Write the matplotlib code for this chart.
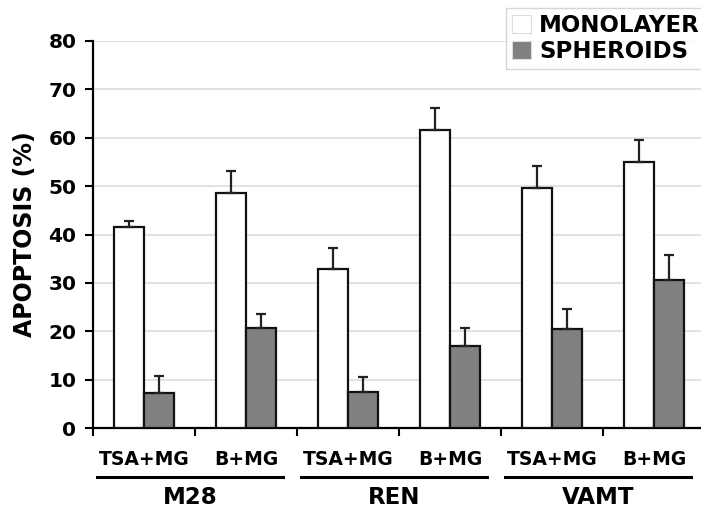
import numpy as np
import matplotlib.pyplot as plt

treatments = ['TSA+MG', 'B+MG', 'TSA+MG', 'B+MG', 'TSA+MG', 'B+MG']
cell_lines = ['M28', 'REN', 'VAMT']
monolayer = [41.5, 48.6, 32.9, 61.6, 49.7, 54.9]
monolayer_err = [1.3, 4.6, 4.3, 4.5, 4.5, 4.6]
spheroids = [7.2, 20.7, 7.4, 17.0, 20.5, 30.6]
spheroids_err = [3.5, 2.8, 3.2, 3.7, 4.0, 5.2]

plt.rcParams['font.family'] = 'DejaVu Sans'
plt.rcParams['font.weight'] = 'bold'

fig = plt.figure(figsize=(7.01, 5.09), dpi=100)
ax = fig.add_axes([93 / 701, 1 - 428 / 509, 612 / 701, 387 / 509])

x = np.arange(len(treatments))
w = 0.29
ekw = dict(elinewidth=1.6, capsize=3.5, capthick=1.6, ecolor='#222222')

# faint shadow on the right of the grey bars
ax.bar(x + w / 2 + 0.012, np.array(spheroids) - 0.4, w, color='#bbbbbb',
       linewidth=0, zorder=2)
ax.bar(x - w / 2, monolayer, w, color='white', edgecolor='#111111', linewidth=1.6,
       yerr=[np.zeros(6), monolayer_err], error_kw=ekw, label='MONOLAYER', zorder=3)
ax.bar(x + w / 2, spheroids, w, color='#808080', edgecolor='#111111', linewidth=1.6,
       yerr=[np.zeros(6), spheroids_err], error_kw=ekw, label='SPHEROIDS', zorder=3)

ax.set_xlim(-0.5, 5.5)
ax.set_ylim(0, 80)
ax.set_yticks(range(0, 81, 10))
ax.yaxis.grid(True, color='#dddddd', linewidth=1.2, zorder=0)
ax.set_axisbelow(True)
for s in ['top', 'right']:
    ax.spines[s].set_visible(False)
for s in ['left', 'bottom']:
    ax.spines[s].set_linewidth(1.6)
ax.tick_params(axis='y', direction='out', length=6, width=1.5, labelsize=14.5, pad=6)
ax.set_xticks(np.arange(-0.5, 5.6, 1.0))
ax.set_xticklabels([])
ax.tick_params(axis='x', direction='out', length=6, width=1.5)
for lbl in ax.get_yticklabels():
    lbl.set_fontweight('bold')
ax.set_ylabel('APOPTOSIS (%)', fontsize=17, fontweight='bold', labelpad=8)

# treatment labels
for xi, t in zip(x, treatments):
    ax.annotate(t, xy=(xi, 0), xycoords=('data', 'axes fraction'), xytext=(0, -22.5),
                textcoords='offset points', ha='center', va='center',
                fontsize=13.5, fontweight='bold', annotation_clip=False)

# cell line underlines and names
for i, name in enumerate(cell_lines):
    x0, x1 = 2 * i - 0.46, 2 * i + 1.36
    line_y = -49 / 387
    ax.plot([x0, x1], [line_y, line_y], transform=ax.get_xaxis_transform(),
            color='black', linewidth=2.2, clip_on=False)
    ax.text((x0 + x1) / 2, -70 / 387, name, transform=ax.get_xaxis_transform(),
            ha='center', va='center', fontsize=16.5, fontweight='bold')

leg = fig.legend(loc='upper left', bbox_to_anchor=(506 / 701, 1 - 8 / 509),
                 frameon=True, fancybox=False, prop={'weight': 'bold', 'size': 16.5},
                 handlelength=0.85, handleheight=0.85, handletextpad=0.35, borderpad=0.25,
                 labelspacing=0.15, borderaxespad=0)
leg.get_frame().set_edgecolor('#cccccc')
leg.get_frame().set_linewidth(1.0)
for h in leg.legend_handles:
    h.set_edgecolor('#dddddd')
    h.set_linewidth(0.8)

fig.savefig('out.png', dpi=100)
